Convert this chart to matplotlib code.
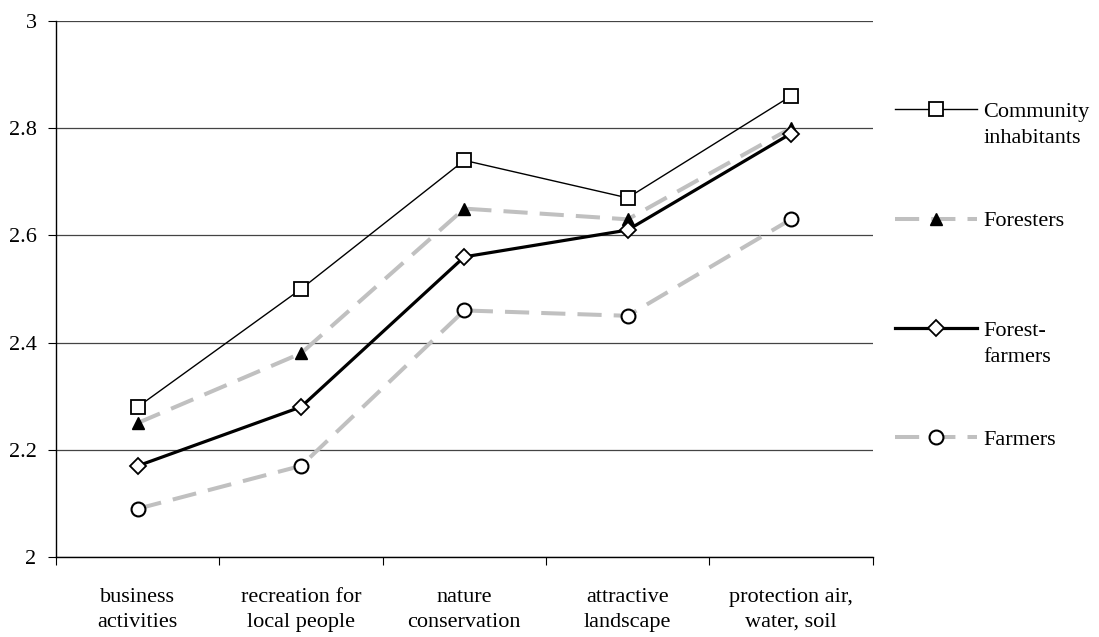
import matplotlib
matplotlib.use("Agg")
import matplotlib.pyplot as plt
import numpy as np

categories = ["business\nactivities", "recreation for\nlocal people", "nature\nconservation",
              "attractive\nlandscape", "protection air,\nwater, soil"]
community = [2.28, 2.50, 2.74, 2.67, 2.86]
foresters = [2.25, 2.38, 2.65, 2.63, 2.80]
forest_farmers = [2.17, 2.28, 2.56, 2.61, 2.79]
farmers = [2.09, 2.17, 2.46, 2.45, 2.63]
labels_first = ["Community", "Foresters", "Forest-", "Farmers"]
labels_second = ["inhabitants", "", "farmers", ""]
yticks = [2, 2.2, 2.4, 2.6, 2.8, 3]

plt.rcParams['font.family'] = ['Liberation Serif', 'DejaVu Serif']
FS = 16
plt.rcParams['font.size'] = FS

fig = plt.figure(figsize=(10.99, 6.37), dpi=100)
ax = fig.add_axes([0.051, 0.1256, 0.743, 0.8414])

x = np.arange(len(categories)) + 0.5
gray = '#C0C0C0'

h1, = ax.plot(x, community, color='black', lw=1.0, marker='s', ms=10,
              mfc='white', mec='black', mew=1.3, zorder=5)
h2, = ax.plot(x, foresters, color=gray, lw=2.9, dashes=(6, 3), marker='^', ms=9,
              mfc='black', mec='black', zorder=4)
h3, = ax.plot(x, forest_farmers, color='black', lw=2.3, marker='D', ms=8,
              mfc='white', mec='black', mew=1.3, zorder=6)
h4, = ax.plot(x, farmers, color=gray, lw=2.9, dashes=(6, 3), marker='o', ms=10,
              mfc='white', mec='black', mew=1.5, zorder=4)

ax.set_xlim(0, len(categories))
ax.set_ylim(2, 3)
ax.set_yticks(yticks)
ax.set_yticklabels([f"{v:g}" for v in yticks])
ax.yaxis.grid(True, color='#444444', lw=0.9)
ax.set_axisbelow(True)
ax.set_xticks(np.arange(len(categories) + 1))
ax.set_xticklabels([])
ax.set_xticks(x, minor=True)
ax.set_xticklabels(categories, minor=True, linespacing=1.45)
ax.tick_params(axis='x', which='minor', length=0, pad=22)
ax.tick_params(axis='x', which='major', length=6, direction='out', color='black')
ax.tick_params(axis='y', length=6, direction='out', pad=8)
for s in ['top', 'right']:
    ax.spines[s].set_visible(False)
for s in ['left', 'bottom']:
    ax.spines[s].set_color('black')
    ax.spines[s].set_linewidth(1.0)

leg = fig.legend([h1, h2, h3, h4], labels_first, loc='upper left',
                 bbox_to_anchor=(0.814, 0.841), frameon=False,
                 borderpad=0, borderaxespad=0,
                 handlelength=3.7, handletextpad=0.3, labelspacing=4.0,
                 fontsize=FS)
leg.set_zorder(5)
for t, second in zip(leg.get_texts(), labels_second):
    if second:
        ann = plt.Annotation(second, xy=(0, 0), xycoords=t,
                             xytext=(0, -5.5), textcoords='offset points',
                             ha='left', va='top', fontsize=FS)
        ann.set_zorder(10)
        fig.add_artist(ann)

fig.savefig("out.png", dpi=100)
